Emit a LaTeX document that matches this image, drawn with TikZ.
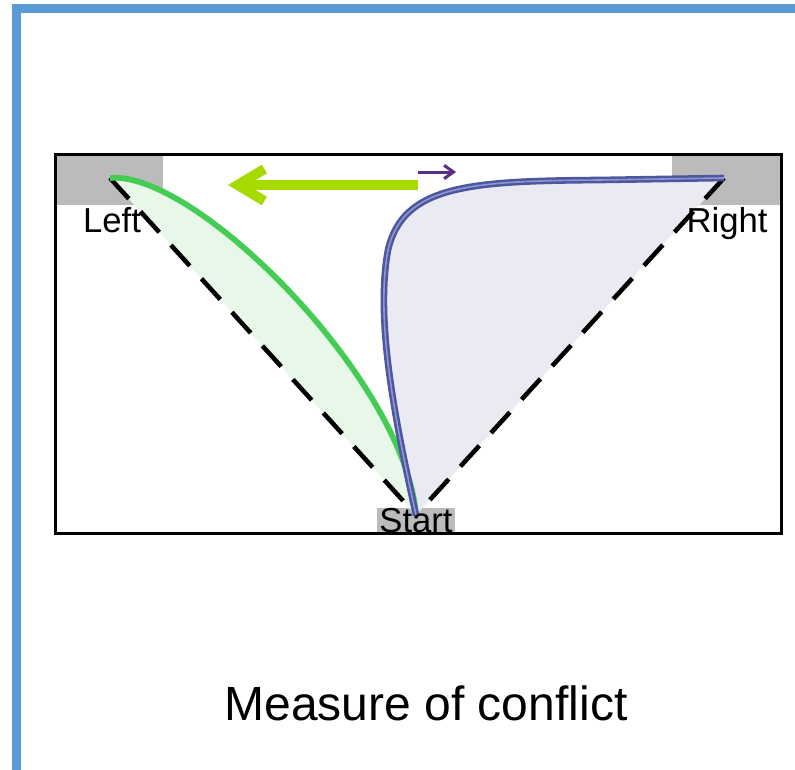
\documentclass[tikz,border=0pt]{standalone}
\usepackage{fontspec}
\setmainfont{Liberation Sans}
\usetikzlibrary{arrows.meta}
\definecolor{frame-blue}{HTML}{5B9BD5}
\definecolor{corner-grey}{HTML}{BBBBBB}
\definecolor{left-green}{HTML}{45CC55}
\definecolor{left-fill}{HTML}{E8F8E8}
\definecolor{right-blue}{HTML}{4D56A0}
\definecolor{right-inner}{HTML}{8F96CC}
\definecolor{right-fill}{HTML}{EAEAF2}
\definecolor{push-lime}{HTML}{A6DB00}
\definecolor{push-purple}{HTML}{5C2E85}

\begin{document}
\begin{tikzpicture}[x=0.75pt, y=-0.75pt,
        every node/.style={font=\fontsize{26}{30}\selectfont}]
  \useasboundingbox (0,0) rectangle (795,770);
  \draw[frame-blue, line width=6.75pt] (16.5,770) -- (16.5,8.5) -- (795,8.5);
  % goal corners
  \fill[corner-grey] (55,155) rectangle (163,205);
  \fill[corner-grey] (672,155) rectangle (781,205);
  \fill[corner-grey] (377,508) rectangle (455,533);
  \coordinate (L) at (110,178);
  \coordinate (R) at (724,178);
  \coordinate (S) at (416,515);
  % areas swept by the two paths
  \fill[left-fill] (L) .. controls (195,170) and (405,380) .. (S) -- cycle;
  \fill[right-fill] (S) .. controls (395,420) and (375,320) .. (388,250)
        .. controls (403,185) and (470,181) .. (600,180) -- (R) -- cycle;
  \draw[line width=3.4pt, dash pattern=on 21pt off 13pt] (L) -- (S);
  \draw[line width=3.4pt, dash pattern=on 21pt off 13pt] (R) -- (S);
  \draw[line width=2.25pt] (55,155) rectangle (781,533);
  % trajectories
  \draw[left-green, line width=4.3pt] (L) .. controls (195,170) and (405,380) .. (S);
  \draw[right-blue, line width=1.9pt, double=right-inner, double distance=1.2pt]
        (S) .. controls (395,420) and (375,320) .. (388,250)
        .. controls (403,185) and (470,181) .. (600,180) -- (R);
  % pulls
  \coordinate (PL0) at (418,185);
  \coordinate (PL1) at (228,185);
  \draw[push-lime, line width=7.5pt, -{Straight Barb[length=20pt, width=24pt]}] (PL0) -- (PL1);
  \coordinate (PR0) at (418,172);
  \coordinate (PR1) at (456,172);
  \draw[push-purple, line width=2.25pt, -{Straight Barb[length=7pt, width=10pt]}] (PR0) -- (PR1);
  \node[anchor=base] (LEFT) at (112,232) {Left};
  \node[anchor=base] (RIGHT) at (727,232) {Right};
  \node[anchor=base] (START) at (416,532) {Start};
  \node[font=\fontsize{36}{42}\selectfont] (TITLE) at (426,703) {Measure of conflict};
\end{tikzpicture}
\end{document}
